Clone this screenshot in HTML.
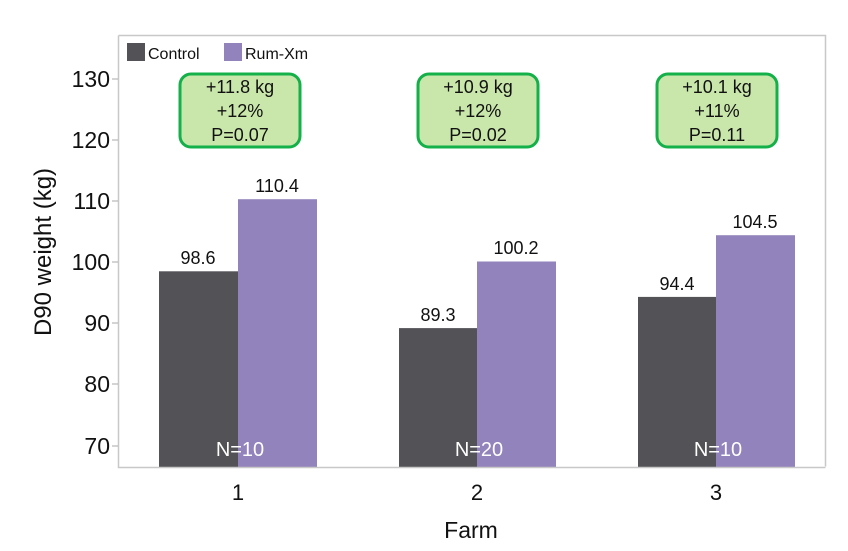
<!DOCTYPE html>
<html><head><meta charset="utf-8"><style>body{margin:0;background:#fff}svg{display:block}text{font-family:"Liberation Sans","DejaVu Sans",sans-serif}</style></head>
<body>
<svg width="848" height="551" viewBox="0 0 848 551" xmlns="http://www.w3.org/2000/svg">
<rect width="848" height="551" fill="#fff"/>
<g>
<rect x="159" y="271.3" width="79" height="195.7" fill="#535357"/>
<rect x="238" y="199.2" width="79" height="267.8" fill="#9283bc"/>
<rect x="399" y="328.1" width="78" height="138.9" fill="#535357"/>
<rect x="477" y="261.5" width="79" height="205.5" fill="#9283bc"/>
<rect x="638" y="296.9" width="78" height="170.1" fill="#535357"/>
<rect x="716" y="235.2" width="79" height="231.8" fill="#9283bc"/>
</g>
<path d="M118.5 35.5 H825.5 V466.5 M118.5 35.5 V467.5 H825.5" fill="none" stroke="#c8c8c8" stroke-width="1.5"/>
<g stroke="#aaa" stroke-width="1">
<line x1="112" x2="118" y1="79" y2="79"/><line x1="112" x2="118" y1="140" y2="140"/>
<line x1="112" x2="118" y1="201" y2="201"/><line x1="112" x2="118" y1="262" y2="262"/>
<line x1="112" x2="118" y1="323" y2="323"/><line x1="112" x2="118" y1="384" y2="384"/>
<line x1="112" x2="118" y1="446" y2="446"/>
</g>
<g font-size="23" fill="#111" text-anchor="end">
<text x="110" y="87">130</text><text x="110" y="148">120</text><text x="110" y="209">110</text>
<text x="110" y="270">100</text><text x="110" y="331">90</text><text x="110" y="392">80</text><text x="110" y="454">70</text>
</g>
<g font-size="22" fill="#111" text-anchor="middle">
<text x="238" y="500">1</text><text x="477" y="500">2</text><text x="716" y="500">3</text>
<text x="471" y="538" font-size="23">Farm</text>
<text transform="translate(51,252) rotate(-90)" font-size="24">D90 weight (kg)</text>
</g>
<g font-size="18" fill="#111" text-anchor="middle">
<text x="198" y="264">98.6</text><text x="277" y="192">110.4</text>
<text x="438" y="321">89.3</text><text x="516" y="254">100.2</text>
<text x="677" y="290">94.4</text><text x="755" y="228">104.5</text>
</g>
<g font-size="20" fill="#fff" text-anchor="middle">
<text x="240" y="456">N=10</text><text x="479" y="456">N=20</text><text x="718" y="456">N=10</text>
</g>
<rect x="127" y="43" width="18" height="18" fill="#535357"/>
<text x="148" y="59" font-size="16" fill="#111">Control</text>
<rect x="224" y="43" width="18" height="18" fill="#9283bc"/>
<text x="245" y="59" font-size="16" fill="#111">Rum-Xm</text>
<g fill="#c9e6ab" stroke="#14b04a" stroke-width="3">
<rect x="180" y="74" width="120" height="73" rx="11"/>
<rect x="418" y="74" width="120" height="73" rx="11"/>
<rect x="657" y="74" width="120" height="73" rx="11"/>
</g>
<g font-size="18" fill="#111" text-anchor="middle">
<text x="240" y="93">+11.8 kg</text><text x="240" y="117">+12%</text><text x="240" y="141">P=0.07</text>
<text x="478" y="93">+10.9 kg</text><text x="478" y="117">+12%</text><text x="478" y="141">P=0.02</text>
<text x="717" y="93">+10.1 kg</text><text x="717" y="117">+11%</text><text x="717" y="141">P=0.11</text>
</g>
</svg>
</body></html>
